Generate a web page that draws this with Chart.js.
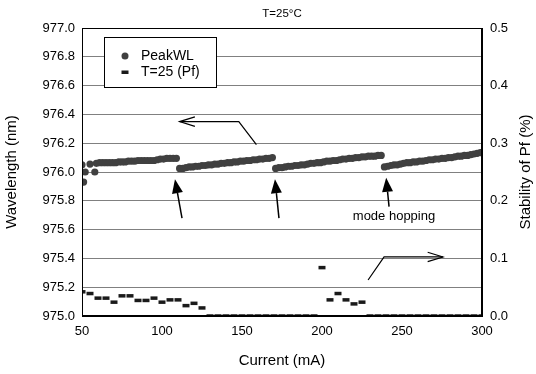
<!DOCTYPE html>
<html><head><meta charset="utf-8">
<script src="https://cdn.jsdelivr.net/npm/chart.js@4/dist/chart.umd.min.js"></script>
<style>html,body{margin:0;padding:0;background:#fff}#wrap{width:536px;height:374px;position:relative}</style>
</head><body><div id="wrap"><canvas id="c" width="536" height="374"></canvas></div>
<script>
// ---- data ----
const currentWL = [50,51,52,55,58,
 59,61,63,65,67,69,71,73,75,77,79,81,83,85,87,89,91,93,95,97,99,101,103,105,107,109,
 111,113,115,117,119,121,123,125,127,129,131,133,135,137,139,141,143,145,147,149,151,153,155,157,159,161,163,165,167,169,
 171,173,175,177,179,181,183,185,187,189,191,193,195,197,199,201,203,205,207,209,211,213,215,217,219,221,223,225,227,229,231,233,235,237,
 239,241,243,245,247,249,251,253,255,257,259,261,263,265,267,269,271,273,275,277,279,281,283,285,287,289,291,293,295,297,299,300];
const peakWL = [976.05,975.93,976.00,976.055,976.00,
 976.06,976.065,976.065,976.065,976.065,976.065,976.065,976.07,976.07,976.07,976.075,976.075,976.075,976.08,976.08,976.08,976.08,976.08,976.08,976.085,976.09,976.09,976.095,976.095,976.095,976.095,
 976.025,976.025,976.03,976.035,976.035,976.04,976.04,976.045,976.045,976.05,976.05,976.055,976.055,976.06,976.06,976.065,976.065,976.07,976.07,976.075,976.075,976.08,976.08,976.085,976.085,976.09,976.09,976.095,976.095,976.10,
 976.025,976.03,976.03,976.035,976.04,976.04,976.045,976.045,976.05,976.05,976.055,976.06,976.06,976.065,976.065,976.07,976.075,976.075,976.08,976.08,976.085,976.09,976.09,976.095,976.095,976.10,976.10,976.105,976.105,976.11,976.11,976.11,976.115,976.115,
 976.035,976.04,976.045,976.05,976.05,976.055,976.06,976.065,976.065,976.07,976.07,976.075,976.075,976.08,976.085,976.085,976.09,976.09,976.095,976.095,976.10,976.10,976.105,976.11,976.11,976.115,976.115,976.12,976.125,976.13,976.135,976.135];
const currentPf = [50,55,60,65,70,75,80,85,90,95,100,105,110,115,120,125,130,135,140,145,150,155,160,165,170,175,180,185,190,195,200,205,210,215,220,225,230,235,240,245,250,255,260,265,270,275,280,285,290,295,300];
const stabilityPf = [0.042,0.039,0.031,0.031,0.024,0.035,0.035,0.027,0.027,0.031,0.024,0.028,0.028,0.018,0.022,0.014,
 0,0,0,0,0,0,0,0,0,0,0,0,0,0,
 0.084,0.028,0.039,0.028,0.021,0.024,
 0,0,0,0,0,0,0,0,0,0,0,0,0,0,0];
const xTicks = [50,100,150,200,250,300];
const seriesNames = ['PeakWL','T=25 (Pf)'];
const chartTitle = 'T=25\u00B0C';
const xTitle = 'Current (mA)';
const yTitle = 'Wavelength (nm)';
const y1Title = 'Stability of Pf (%)';
const noteText = 'mode hopping';

// annotations in data units (current mA, wavelength nm)
const leftArrow = [[159,976.19],[148,976.35],[111,976.35]];
const rightArrow = [[228.8,975.25],[238.8,975.41],[275.6,975.41]];
const upArrows = [[[112.5,975.68],[108.1,975.95]],[[173.1,975.68],[170.6,975.95]],[[241.9,975.76],[240.1,975.96]]];
const notePos = [245,975.69];

const FONT = "'Liberation Sans', Arial, sans-serif";
Chart.defaults.font.family = FONT;
Chart.defaults.color = '#000';

const wlData = currentWL.map((x,i)=>({x:x,y:peakWL[i]}));
const pfData = currentPf.map((x,i)=>({x:x,y:stabilityPf[i]}));

const deco = {
  id:'deco',
  afterDraw(chart){
    const ctx = chart.ctx, a = chart.chartArea;
    const xs = chart.scales.x, ys = chart.scales.y;
    const P = p => [xs.getPixelForValue(p[0]), ys.getPixelForValue(p[1])];
    ctx.save();
    // frame
    ctx.strokeStyle = '#000'; ctx.lineWidth = 1;
    ctx.strokeRect(Math.round(a.left)+0.5, Math.round(a.top)+0.5, Math.round(a.right-a.left)-1, Math.round(a.bottom-a.top)-1);
    // title
    ctx.fillStyle = '#000'; ctx.font = '11.5px '+FONT; ctx.textAlign='center'; ctx.textBaseline='middle';
    ctx.fillText(chartTitle, (a.left+a.right)/2, 14);
    // right axis title (reads bottom-to-top)
    ctx.save();
    ctx.translate(526,(a.top+a.bottom)/2); ctx.rotate(-Math.PI/2);
    ctx.font='15px '+FONT; ctx.fillText(y1Title,0,0);
    ctx.restore();
    // legend
    ctx.fillStyle='#fff'; ctx.fillRect(104.5,37.5,112,50);
    ctx.strokeStyle='#000'; ctx.strokeRect(104.5,37.5,112,50);
    ctx.fillStyle='#404040'; ctx.beginPath(); ctx.arc(125,56,3.5,0,Math.PI*2); ctx.fill();
    ctx.fillStyle='#1a1a1a'; ctx.fillRect(121.5,70.5,7,3.5);
    ctx.fillStyle='#000'; ctx.font='14px '+FONT; ctx.textAlign='left';
    ctx.fillText(seriesNames[0],141,56.5);
    ctx.fillText(seriesNames[1],141,72.5);
    // open arrows
    ctx.lineWidth = 1.2; ctx.strokeStyle='#000';
    const openArrow = pts => {
      const q = pts.map(P);
      ctx.beginPath(); ctx.moveTo(q[0][0],q[0][1]);
      for (let i=1;i<q.length;i++) ctx.lineTo(q[i][0],q[i][1]);
      ctx.stroke();
      const t=q[q.length-1], b=q[q.length-2];
      const ang=Math.atan2(t[1]-b[1],t[0]-b[0]);
      ctx.beginPath();
      ctx.moveTo(t[0]-16*Math.cos(ang-0.3), t[1]-16*Math.sin(ang-0.3));
      ctx.lineTo(t[0],t[1]);
      ctx.lineTo(t[0]-16*Math.cos(ang+0.3), t[1]-16*Math.sin(ang+0.3));
      ctx.stroke();
    };
    openArrow(leftArrow); openArrow(rightArrow);
    // filled up arrows
    ctx.fillStyle='#000'; ctx.lineWidth=1.5;
    upArrows.forEach(ar=>{
      const s=P(ar[0]), t=P(ar[1]);
      const ang=Math.atan2(t[1]-s[1],t[0]-s[0]);
      const L=14, W=5.5;
      const bx=t[0]-L*Math.cos(ang), by=t[1]-L*Math.sin(ang);
      ctx.beginPath(); ctx.moveTo(s[0],s[1]); ctx.lineTo(bx,by); ctx.stroke();
      ctx.beginPath(); ctx.moveTo(t[0],t[1]);
      ctx.lineTo(bx+W*Math.sin(ang), by-W*Math.cos(ang));
      ctx.lineTo(bx-W*Math.sin(ang), by+W*Math.cos(ang));
      ctx.closePath(); ctx.fill();
    });
    // note
    ctx.font='13px '+FONT; ctx.textAlign='center'; ctx.textBaseline='middle';
    const np=P(notePos); ctx.fillText(noteText,np[0],np[1]);
    ctx.restore();
  }
};

new Chart(document.getElementById('c'), {
  type:'scatter',
  data:{datasets:[
    {label:seriesNames[0], data:wlData, yAxisID:'y', backgroundColor:'#404040', borderColor:'#404040', pointRadius:3.6, pointBorderWidth:0, clip:0},
    {label:seriesNames[1], data:pfData, yAxisID:'y1', pointStyle:'line', borderColor:'#1a1a1a', backgroundColor:'#1a1a1a', pointRadius:3.5, pointBorderWidth:3.5, clip:0}
  ]},
  options:{
    responsive:false, animation:false, devicePixelRatio:1,
    layout:{padding:{top:28,left:0,right:0,bottom:0}},
    plugins:{legend:{display:false}, tooltip:{enabled:false}, title:{display:false}},
    scales:{
      x:{type:'linear', position:'bottom', min:50, max:300,
         afterBuildTicks:s=>{s.ticks=xTicks.map(v=>({value:v}));},
         ticks:{font:{size:13}, color:'#000', padding:8, maxRotation:0},
         grid:{display:false, drawTicks:false}, border:{display:true,color:'#000'},
         title:{display:true, text:xTitle, font:{size:15}, color:'#000', padding:{top:0,bottom:4}},
         afterFit:s=>{s.height=58;}},
      y:{type:'linear', position:'left', min:975, max:977,
         ticks:{stepSize:0.2, font:{size:13}, color:'#000', padding:7, callback:v=>Number(v).toFixed(1)},
         grid:{color:'#808080', lineWidth:1, drawTicks:false}, border:{display:true,color:'#000'},
         title:{display:true, text:yTitle, font:{size:15}, color:'#000', padding:{top:3,bottom:0}},
         afterFit:s=>{s.width=82;}},
      y1:{type:'linear', position:'right', min:0, max:0.5,
         ticks:{stepSize:0.1, font:{size:13}, color:'#000', padding:8, callback:v=>Number(v).toFixed(1)},
         grid:{drawOnChartArea:false, drawTicks:false}, border:{display:true,color:'#000'},
         title:{display:false},
         afterFit:s=>{s.width=54;}}
    }
  },
  plugins:[deco]
});
</script>
</body></html>
